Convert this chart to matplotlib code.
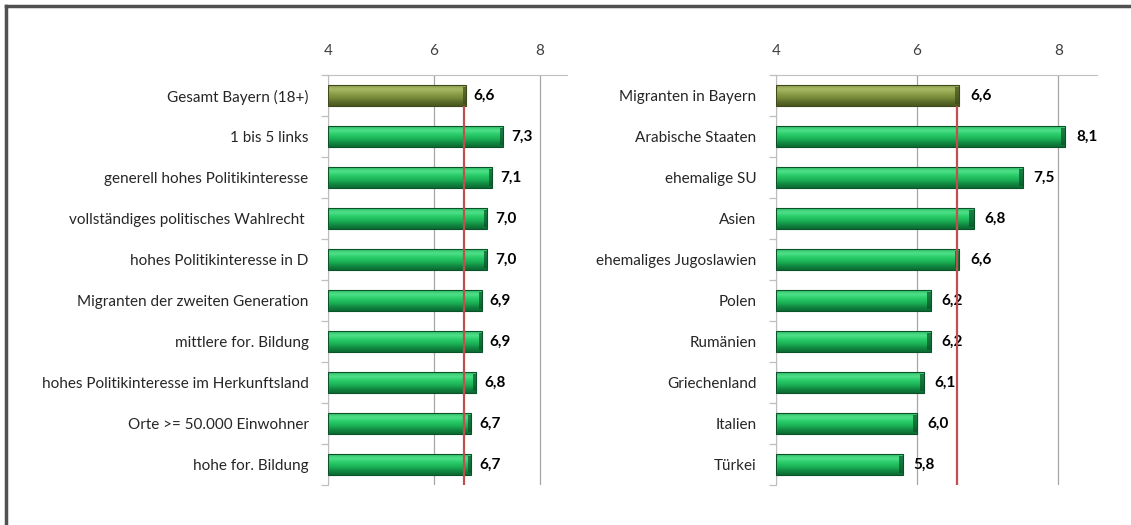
import matplotlib
matplotlib.use("Agg")
from matplotlib import pyplot as plt
from matplotlib.colors import LinearSegmentedColormap
from matplotlib.lines import Line2D
import numpy as np

plt.rcParams['font.family'] = ['Lato', 'DejaVu Sans']

left_labels = ['Gesamt Bayern (18+)', '1 bis 5 links', 'generell hohes Politikinteresse',
               'vollständiges politisches Wahlrecht ', 'hohes Politikinteresse in D',
               'Migranten der zweiten Generation', 'mittlere for. Bildung',
               'hohes Politikinteresse im Herkunftsland', 'Orte >= 50.000 Einwohner',
               'hohe for. Bildung']
left_values = [6.6, 7.3, 7.1, 7.0, 7.0, 6.9, 6.9, 6.8, 6.7, 6.7]

right_labels = ['Migranten in Bayern', 'Arabische Staaten', 'ehemalige SU', 'Asien',
                'ehemaliges Jugoslawien', 'Polen', 'Rumänien', 'Griechenland',
                'Italien', 'Türkei']
right_values = [6.6, 8.1, 7.5, 6.8, 6.6, 6.2, 6.2, 6.1, 6.0, 5.8]

ref_line = 6.57
xticks = [4, 6, 8]

# top -> bottom shading of the bevelled bars
green = LinearSegmentedColormap.from_list('g', ['#2fbf66', '#4fe08a', '#28cc68', '#1cb458', '#128a42', '#0c6a32'])
olive = LinearSegmentedColormap.from_list('o', ['#8c9c4c', '#a8ba66', '#8ea048', '#7a8c3a', '#5c6c2a', '#48561f'])
grad = np.linspace(0, 1, 64).reshape(-1, 1)

fig = plt.figure(figsize=(11.31, 5.25), dpi=100)

# outer frame (top and left edges visible)
fig.add_artist(Line2D([0.005, 1.0], [0.988, 0.988], color='#505050', lw=2.5, transform=fig.transFigure))
fig.add_artist(Line2D([0.005, 0.005], [0.0, 0.988], color='#505050', lw=2.5, transform=fig.transFigure))


def draw_panel(rect, labels, values, xmax):
    ax = fig.add_axes(rect)
    n = len(values)
    h = 0.5
    for i, v in enumerate(values):
        cmap = olive if i == 0 else green
        edge = '#3e4a1c' if i == 0 else '#0a5228'
        ax.imshow(grad, extent=[4, v, i + h / 2, i - h / 2], aspect='auto', cmap=cmap,
                  zorder=2, interpolation='bicubic', origin='upper')
        ax.barh(i, v - 4, left=4, height=h, facecolor='none', edgecolor=edge, lw=0.8, zorder=3)
        ax.barh(i, 0.06, left=v - 0.06, height=h * 0.8, color=edge, alpha=0.7, zorder=3, lw=0)
        ax.text(v + 0.15, i, ('%.1f' % v).replace('.', ','), va='center', ha='left',
                fontsize=11, fontweight='bold', color='black', zorder=3)
    ax.set_xlim(4, xmax)
    ax.set_ylim(n - 0.5, -0.5)
    ax.vlines(ref_line, h / 2, n - 0.5, color='#c0504d', lw=1.6, zorder=4)

    ax.xaxis.tick_top()
    ax.set_xticks(xticks)
    ax.tick_params(axis='x', length=0, pad=12, labelsize=11, labelcolor='#404040')
    ax.grid(axis='x', color='#a6a6a6', lw=0.9, zorder=0)
    ax.set_yticks(range(n))
    ax.set_yticklabels(labels, fontsize=11, color='#262626')
    ax.set_yticks(np.arange(-0.5, n, 1), minor=True)
    ax.tick_params(axis='y', which='major', length=0, pad=14)
    ax.tick_params(axis='y', which='minor', length=5, color='#bfbfbf', width=0.9)
    for s in ['right', 'bottom']:
        ax.spines[s].set_visible(False)
    ax.spines['top'].set_color('#bfbfbf')
    ax.spines['left'].set_color('#bfbfbf')
    ax.set_axisbelow(True)
    return ax


draw_panel([0.290, 0.076, 0.211, 0.781], left_labels, left_values, 8.5)
draw_panel([0.686, 0.076, 0.284, 0.781], right_labels, right_values, 8.55)

fig.savefig('out.png', dpi=100)
